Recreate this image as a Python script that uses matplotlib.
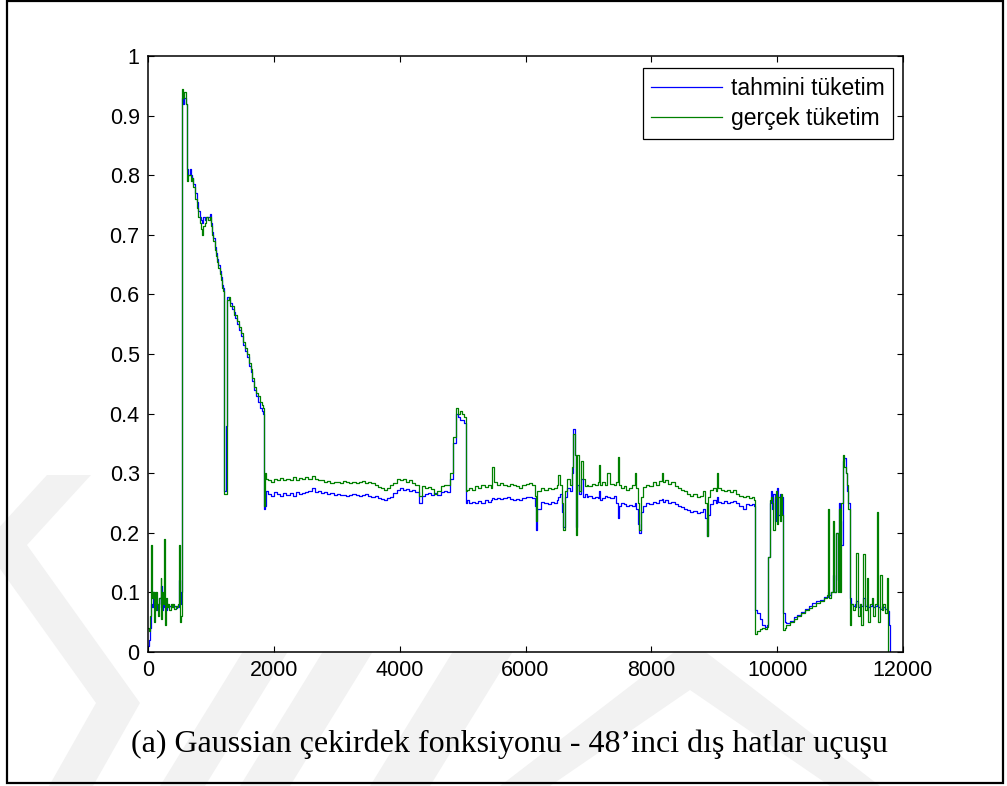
import numpy as np
import matplotlib
matplotlib.use("Agg")
import matplotlib.pyplot as plt
from matplotlib.patches import Polygon, Rectangle

W, H = 1007, 786
nan = np.nan

# sample index along the flight
ornek = [
    0, 15, 30, 50, 70, 80, 90, 105, 120, 135,
    150, 165, 180, 200, 210, 220, 235, 250, 270, 285,
    300, 320, 340, 360, 380, 400, 420, 440, 460, 480,
    500, 510, 525, 540, 548, 560, 580, 600, 620, 640,
    660, 680, 700, 720, 750, 780, 800, 820, 840, 860,
    880, 900, 920, 950, 980, 1000, 1020, 1040, 1060, 1080,
    1100, 1120, 1140, 1160, 1180, 1195, 1205, 1220, 1240, 1256,
    1280, 1300, 1330, 1360, 1390, 1420, 1450, 1480, 1510, 1540,
    1570, 1600, 1630, 1660, 1690, 1720, 1750, 1780, 1810, 1830,
    1845, 1860, 1880, 1900, 1950, 2000, 2050, 2100, 2150, 2200,
    2250, 2300, 2350, 2400, 2450, 2500, 2550, 2600, 2650, 2700,
    2750, 2800, 2850, 2900, 2950, 3000, 3050, 3100, 3150, 3200,
    3250, 3300, 3350, 3400, 3450, 3500, 3550, 3600, 3650, 3700,
    3750, 3800, 3850, 3900, 3950, 4000, 4050, 4100, 4150, 4200,
    4250, 4300, 4350, 4400, 4450, 4500, 4550, 4600, 4650, 4700,
    4750, 4800, 4850, 4900, 4930, 4960, 4990, 5020, 5050, 5070,
    5100, 5150, 5200, 5250, 5300, 5350, 5400, 5450, 5470, 5500,
    5550, 5600, 5650, 5700, 5750, 5800, 5850, 5900, 5950, 6000,
    6050, 6100, 6150, 6170, 6190, 6250, 6300, 6350, 6400, 6450,
    6500, 6520, 6550, 6580, 6600, 6620, 6660, 6700, 6740, 6760,
    6780, 6800, 6820, 6850, 6880, 6910, 6940, 6970, 7000, 7050,
    7100, 7150, 7170, 7190, 7220, 7260, 7300, 7350, 7400, 7440,
    7470, 7490, 7520, 7560, 7600, 7650, 7700, 7740, 7760, 7790,
    7810, 7830, 7870, 7920, 7970, 8020, 8070, 8120, 8170, 8190,
    8220, 8270, 8320, 8370, 8420, 8470, 8520, 8570, 8620, 8670,
    8720, 8770, 8820, 8860, 8880, 8900, 8940, 8980, 9020, 9040,
    9060, 9100, 9150, 9200, 9250, 9300, 9350, 9400, 9450, 9500,
    9550, 9600, 9630, 9650, 9680, 9720, 9760, 9800, 9840, 9860,
    9880, 9900, 9920, 9940, 9960, 9980, 10000, 10020, 10040, 10060,
    10080, 10100, 10120, 10140, 10200, 10260, 10320, 10380, 10440, 10500,
    10560, 10620, 10680, 10740, 10790, 10810, 10830, 10860, 10890, 10910,
    10930, 10960, 10980, 11000, 11020, 11050, 11070, 11090, 11110, 11130,
    11150, 11170, 11200, 11230, 11260, 11280, 11310, 11340, 11370, 11390,
    11420, 11440, 11470, 11500, 11530, 11560, 11590, 11610, 11630, 11660,
    11690, 11720, 11750, 11765, 11780, 11790, 11800,
]

# model output (tahmini tüketim)
tahmini = [
    0.01, 0.02, 0.04, 0.08, 0.075, 0.10, 0.08, 0.09, 0.075, 0.07,
    0.08, 0.075, 0.09, 0.08, 0.11, 0.07, 0.08, 0.075, 0.08, 0.07,
    0.08, 0.075, 0.078, 0.075, 0.08, 0.076, 0.078, 0.074, 0.077, 0.075,
    0.12, 0.08, 0.10, 0.15, 0.93, 0.92, 0.93, 0.92, 0.81, 0.80,
    0.81, 0.80, 0.795, 0.785, 0.77, 0.755, 0.74, 0.73, 0.725, 0.72,
    0.73, 0.725, 0.73, 0.73, 0.735, 0.72, 0.705, 0.695, 0.68, 0.67,
    0.66, 0.65, 0.64, 0.63, 0.615, 0.61, 0.27, 0.27, 0.38, 0.595,
    0.59, 0.585, 0.575, 0.57, 0.56, 0.55, 0.54, 0.53, 0.515, 0.505,
    0.495, 0.48, 0.47, 0.455, 0.44, 0.43, 0.42, 0.41, 0.405, 0.40,
    0.24, 0.245, 0.27, 0.265, 0.262, 0.268, 0.265, 0.262, 0.267, 0.264,
    0.266, 0.262, 0.268, 0.265, 0.266, 0.268, 0.27, 0.275, 0.268, 0.27,
    0.267, 0.268, 0.265, 0.266, 0.264, 0.265, 0.263, 0.264, 0.262, 0.264,
    0.265, 0.264, 0.262, 0.263, 0.265, 0.262, 0.26, 0.262, 0.258, 0.257,
    0.255, 0.258, 0.26, 0.266, 0.272, 0.275, 0.272, 0.274, 0.27, 0.272,
    0.268, 0.25, 0.262, 0.265, 0.266, 0.263, 0.266, 0.264, 0.268, 0.27,
    0.268, 0.29, 0.35, 0.40, 0.395, 0.39, 0.39, 0.385, 0.25, 0.255,
    0.25, 0.252, 0.25, 0.253, 0.25, 0.255, 0.252, 0.255, 0.258, 0.257,
    0.258, 0.256, 0.258, 0.26, 0.257, 0.255, 0.257, 0.255, 0.258, 0.26,
    0.26, 0.258, 0.245, 0.205, 0.24, 0.252, 0.25, 0.248, 0.252, 0.25,
    0.255, 0.26, 0.265, 0.235, 0.21, 0.26, 0.275, 0.27, 0.30, 0.375,
    0.33, 0.21, 0.28, 0.265, 0.29, 0.26, 0.265, 0.26, 0.262, 0.258,
    0.26, 0.258, 0.27, 0.255, 0.258, 0.262, 0.26, 0.258, 0.262, 0.25,
    0.225, 0.245, 0.25, 0.248, 0.245, 0.247, 0.245, 0.25, 0.24, 0.215,
    0.20, 0.235, 0.245, 0.25, 0.248, 0.252, 0.25, 0.255, 0.257, 0.252,
    0.255, 0.25, 0.252, 0.248, 0.245, 0.243, 0.24, 0.238, 0.235, 0.237,
    0.233, 0.235, 0.24, 0.225, 0.195, 0.23, 0.248, 0.255, 0.25, 0.26,
    0.252, 0.25, 0.253, 0.25, 0.252, 0.254, 0.25, 0.245, 0.24, 0.248,
    0.247, 0.248, 0.245, 0.07, 0.065, 0.055, 0.045, 0.042, 0.045, 0.16,
    0.25, 0.27, 0.24, 0.265, 0.22, 0.26, 0.275, 0.23, 0.265, 0.24,
    0.26, 0.065, 0.05, 0.048, 0.052, 0.058, 0.062, 0.067, 0.072, 0.077,
    0.082, 0.086, 0.088, 0.092, 0.093, 0.10, 0.095, 0.10, 0.13, 0.10,
    0.20, 0.12, 0.25, 0.22, 0.18, 0.32, 0.325, 0.30, 0.27, 0.25,
    0.09, 0.08, 0.078, 0.08, 0.085, 0.075, 0.08, 0.077, 0.09, 0.078,
    0.08, 0.075, 0.078, 0.08, 0.076, 0.078, 0.08, 0.075, 0.072, 0.078,
    0.075, 0.072, 0.07, 0.068, 0.045, 0.02, 0.0,
]

# measured consumption (gerçek tüketim)
gercek = [
    0.04, 0.035, 0.06, 0.18, 0.09, 0.10, 0.05, 0.10, 0.07, 0.10,
    0.08, 0.06, 0.09, 0.125, 0.055, 0.10, 0.08, 0.19, 0.045, 0.09,
    0.075, 0.08, 0.07, 0.08, 0.075, 0.08, 0.072, 0.078, 0.076, 0.08,
    0.18, 0.05, 0.06, 0.10, 0.945, 0.93, 0.94, 0.92, 0.79, 0.80,
    0.80, 0.79, 0.795, 0.78, 0.76, 0.745, 0.73, 0.72, 0.71, 0.70,
    0.715, 0.72, 0.73, 0.725, 0.73, 0.715, 0.70, 0.69, 0.675, 0.665,
    0.655, 0.645, 0.635, 0.625, 0.61, 0.605, 0.265, 0.265, 0.265, 0.59,
    0.595, 0.58, 0.58, 0.565, 0.565, 0.555, 0.545, 0.535, 0.52, 0.51,
    0.50, 0.485, 0.475, 0.46, 0.445, 0.435, 0.43, 0.42, 0.415, 0.41,
    0.245, 0.30, 0.29, 0.288, 0.285, 0.29, 0.288, 0.292, 0.289, 0.291,
    0.288, 0.293, 0.289, 0.292, 0.29, 0.294, 0.29, 0.296, 0.29, 0.289,
    0.288, 0.286, 0.287, 0.284, 0.286, 0.285, 0.283, 0.287, 0.285, 0.284,
    0.286, 0.283, 0.285, 0.287, 0.284, 0.286, 0.283, 0.28, 0.277, 0.276,
    0.272, 0.275, 0.28, 0.284, 0.29, 0.289, 0.291, 0.286, 0.288, 0.284,
    0.28, 0.262, 0.278, 0.275, 0.277, 0.274, 0.265, 0.27, 0.278, 0.28,
    0.28, 0.30, 0.36, 0.41, 0.40, 0.405, 0.40, 0.395, 0.27, 0.272,
    0.275, 0.272, 0.278, 0.275, 0.28, 0.277, 0.28, 0.275, 0.31, 0.285,
    0.28, 0.283, 0.28, 0.278, 0.282, 0.28, 0.278, 0.276, 0.28, 0.282,
    0.283, 0.28, 0.262, 0.22, 0.27, 0.275, 0.272, 0.275, 0.273, 0.275,
    0.28, 0.297, 0.28, 0.25, 0.205, 0.27, 0.29, 0.28, 0.31, 0.365,
    0.33, 0.196, 0.33, 0.27, 0.32, 0.29, 0.278, 0.28, 0.278, 0.282,
    0.28, 0.285, 0.314, 0.28, 0.285, 0.28, 0.30, 0.282, 0.28, 0.285,
    0.327, 0.28, 0.275, 0.278, 0.272, 0.276, 0.28, 0.30, 0.275, 0.25,
    0.205, 0.26, 0.277, 0.28, 0.278, 0.285, 0.28, 0.287, 0.30, 0.285,
    0.288, 0.282, 0.285, 0.278, 0.275, 0.272, 0.27, 0.265, 0.262, 0.265,
    0.26, 0.262, 0.27, 0.25, 0.195, 0.26, 0.272, 0.275, 0.27, 0.30,
    0.275, 0.272, 0.27, 0.272, 0.268, 0.272, 0.265, 0.262, 0.26, 0.262,
    0.258, 0.26, 0.255, 0.03, 0.035, 0.038, 0.04, 0.038, 0.042, 0.16,
    0.255, 0.26, 0.25, 0.205, 0.26, 0.27, 0.215, 0.26, 0.22, 0.265,
    0.23, 0.037, 0.04, 0.045, 0.05, 0.055, 0.06, 0.065, 0.07, 0.074,
    0.078, 0.083, 0.086, 0.09, 0.095, 0.24, 0.09, 0.10, 0.22, 0.10,
    0.20, 0.10, 0.24, 0.10, 0.25, 0.33, 0.31, 0.30, 0.28, 0.24,
    0.045, 0.08, 0.07, 0.075, 0.166, 0.06, 0.08, 0.045, 0.165, 0.07,
    0.125, 0.05, 0.08, 0.09, 0.06, 0.08, 0.235, 0.05, 0.13, 0.07,
    0.08, 0.065, 0.125, 0.0, nan, nan, nan,
]

x_ticks = [0, 2000, 4000, 6000, 8000, 10000, 12000]
y_ticks = [0, 0.1, 0.2, 0.3, 0.4, 0.5, 0.6, 0.7, 0.8, 0.9, 1.0]
y_tick_labels = ["0", "0.1", "0.2", "0.3", "0.4", "0.5", "0.6", "0.7", "0.8", "0.9", "1"]

caption = "(a) Gaussian çekirdek fonksiyonu - 48’inci dış hatlar uçuşu"

plt.rcParams["font.family"] = ["Liberation Sans", "DejaVu Sans"]


def fig_xy(x, y):
    # page pixel position -> figure fraction
    return (x / W, 1 - y / H)


fig = plt.figure(figsize=(W / 100, H / 100), dpi=100)
fig.patch.set_facecolor("white")

# faint background logo shapes behind the plot
logo_shapes = [
    [(91, 475), (27, 545), (140, 703), (93, 786), (49, 786), (96, 703), (-17, 545), (47, 475)],
    [(160, 786), (205, 786), (295, 640), (250, 640)],
    [(240, 786), (290, 786), (380, 640), (330, 640)],
    [(370, 786), (430, 786), (520, 640), (460, 640)],
    [(500, 786), (550, 786), (690, 690), (830, 786), (880, 786), (690, 640)],
]
for shape in logo_shapes:
    fig.add_artist(Polygon([fig_xy(px, py) for px, py in shape], closed=True,
                           transform=fig.transFigure, facecolor="#f2f2f2",
                           edgecolor="none", zorder=-5))

left, right, top, bottom = 148, 903, 56, 652
ax = fig.add_axes([left / W, 1 - bottom / H, (right - left) / W, (bottom - top) / H])
ax.set_facecolor("white")

ax.plot(ornek, tahmini, color=(0, 0, 1), lw=0.9, drawstyle="steps-post",
        label="tahmini tüketim")
ax.plot(ornek, gercek, color=(0, 0.5, 0), lw=0.9, drawstyle="steps-post",
        label="gerçek tüketim")

ax.set_xlim(0, 12000)
ax.set_ylim(0, 1)
ax.set_xticks(x_ticks)
ax.set_xticklabels([str(t) for t in x_ticks])
ax.set_yticks(y_ticks)
ax.set_yticklabels(y_tick_labels)
ax.tick_params(direction="in", length=4, width=0.8, top=True, right=True,
               labelsize=15.5, pad=6, colors="black")
for sp in ax.spines.values():
    sp.set_linewidth(1.1)

leg = ax.legend(loc="upper right", bbox_to_anchor=fig_xy(893, 68),
                bbox_transform=fig.transFigure, borderaxespad=0,
                fontsize=16.5, handlelength=3.1, handletextpad=0.36,
                borderpad=0.38, labelspacing=0.32, fancybox=False,
                framealpha=1, edgecolor="black")
leg.get_frame().set_linewidth(0.9)

fig.text(*fig_xy(509, 744), caption, ha="center", va="center",
         fontsize=23, family=["Liberation Serif", "DejaVu Serif"])

# outer page frame
x0, y0 = fig_xy(7, 783)
x1, y1 = fig_xy(1003, 1)
fig.add_artist(Rectangle((x0, y0), x1 - x0, y1 - y0, transform=fig.transFigure,
                         fill=False, edgecolor="black", lw=1.6, zorder=10))

fig.savefig("out.png", dpi=100, facecolor="white")
